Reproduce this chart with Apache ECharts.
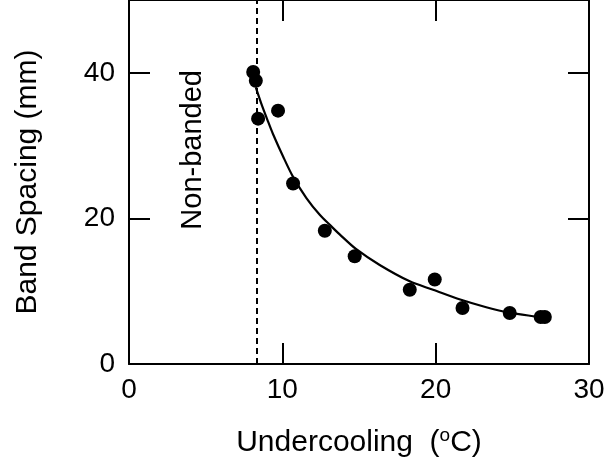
<!DOCTYPE html>
<html>
<head>
<meta charset="utf-8">
<script src="https://cdn.jsdelivr.net/npm/echarts@6/dist/echarts.min.js"></script>
<style>
  html, body { margin: 0; padding: 0; background: #fff; }
  #chart { width: 608px; height: 463px; }
</style>
</head>
<body>
<div id="chart"></div>
<script>
// measured points: undercooling (degC) / band spacing (mm)
var pointX = [8.1, 8.27, 8.42, 9.72, 10.7, 12.77, 14.72, 18.31, 19.94, 21.75, 24.83, 26.85, 27.12];
var pointY = [40.1, 38.9, 33.7, 34.8, 24.8, 18.3, 14.8, 10.2, 11.6, 7.7, 7.0, 6.45, 6.45];

// fitted curve
var curveX = [8.27, 8.64, 9.07, 9.39, 10.05, 10.7, 11.57, 12.44, 13.2, 13.74, 14.8, 16.35, 18.31, 19.83, 21.6, 23.3, 24.83, 26.57, 26.9];
var curveY = [38.0, 35.7, 33.3, 31.6, 28.5, 25.7, 22.8, 20.5, 18.9, 17.8, 15.8, 13.6, 11.35, 10.2, 8.85, 7.8, 7.05, 6.5, 6.4];

var limitX = 8.3; // non-banded boundary
var xTicks = [0, 10, 20, 30];
var yTicks = [0, 20, 40];

var font = '"Liberation Sans", Arial, Helvetica, sans-serif';

var points = pointX.map(function (x, i) { return [x, pointY[i]]; });
var curve = curveX.map(function (x, i) { return [x, curveY[i]]; });

var axisLine = { show: true, onZero: false, lineStyle: { color: '#000', width: 2 } };
var axisTick = { show: true, inside: true, length: 21, lineStyle: { color: '#000', width: 2 } };

var myChart = echarts.init(document.getElementById('chart'));
var option = {
    backgroundColor: '#fff',
    animation: false,
    grid: { left: 129, right: 19, top: 0, bottom: 96 },
    xAxis: [
        {
            type: 'value', min: 0, max: 30, interval: 10,
            axisLine: axisLine, axisTick: axisTick, splitLine: { show: false },
            axisLabel: {
                color: '#000', fontFamily: font, fontSize: 28, margin: 12,
                formatter: function (v) { return xTicks.indexOf(v) >= 0 ? String(v) : ''; }
            },
            name: '{t|Undercooling  (}{sup|o}{t|C)}',
            nameLocation: 'middle', nameGap: 62,
            nameTextStyle: {
                rich: {
                    t: { fontFamily: font, fontSize: 30, color: '#000' },
                    sup: { fontFamily: font, fontSize: 19, color: '#000', verticalAlign: 'bottom', padding: [0, 0, 15, 0] }
                }
            }
        },
        {
            type: 'value', position: 'top', min: 0, max: 30, interval: 10,
            axisLine: axisLine, axisTick: axisTick, axisLabel: { show: false }, splitLine: { show: false }
        }
    ],
    yAxis: [
        {
            type: 'value', min: 0, max: 50, interval: 20,
            axisLine: axisLine, axisTick: axisTick, splitLine: { show: false },
            axisLabel: {
                color: '#000', fontFamily: font, fontSize: 28, margin: 14,
                formatter: function (v) { return yTicks.indexOf(v) >= 0 ? String(v) : ''; }
            },
            name: 'Band Spacing (mm)',
            nameLocation: 'middle', nameGap: 86,
            nameTextStyle: { fontFamily: font, fontSize: 30, color: '#000' }
        },
        {
            type: 'value', position: 'right', min: 0, max: 50, interval: 20,
            axisLine: axisLine, axisTick: axisTick, axisLabel: { show: false }, splitLine: { show: false }
        }
    ],
    graphic: [
        {
            type: 'text', left: 178, top: 70, rotation: Math.PI / 2,
            style: { text: 'Non-banded', font: '29px ' + font, fill: '#000' }
        }
    ],
    series: [
        {
            name: 'fit',
            type: 'line',
            data: curve,
            smooth: 0.3,
            showSymbol: false,
            lineStyle: { color: '#000', width: 2.2 },
            markLine: {
                silent: true,
                symbol: 'none',
                label: { show: false },
                lineStyle: { color: '#000', width: 2, type: [6, 4] },
                data: [{ xAxis: limitX }]
            },
            z: 2
        },
        {
            name: 'data',
            type: 'scatter',
            data: points,
            symbol: 'circle',
            symbolSize: 14,
            itemStyle: { color: '#000', opacity: 1 },
            z: 3
        }
    ]
};
myChart.setOption(option);
</script>
</body>
</html>
